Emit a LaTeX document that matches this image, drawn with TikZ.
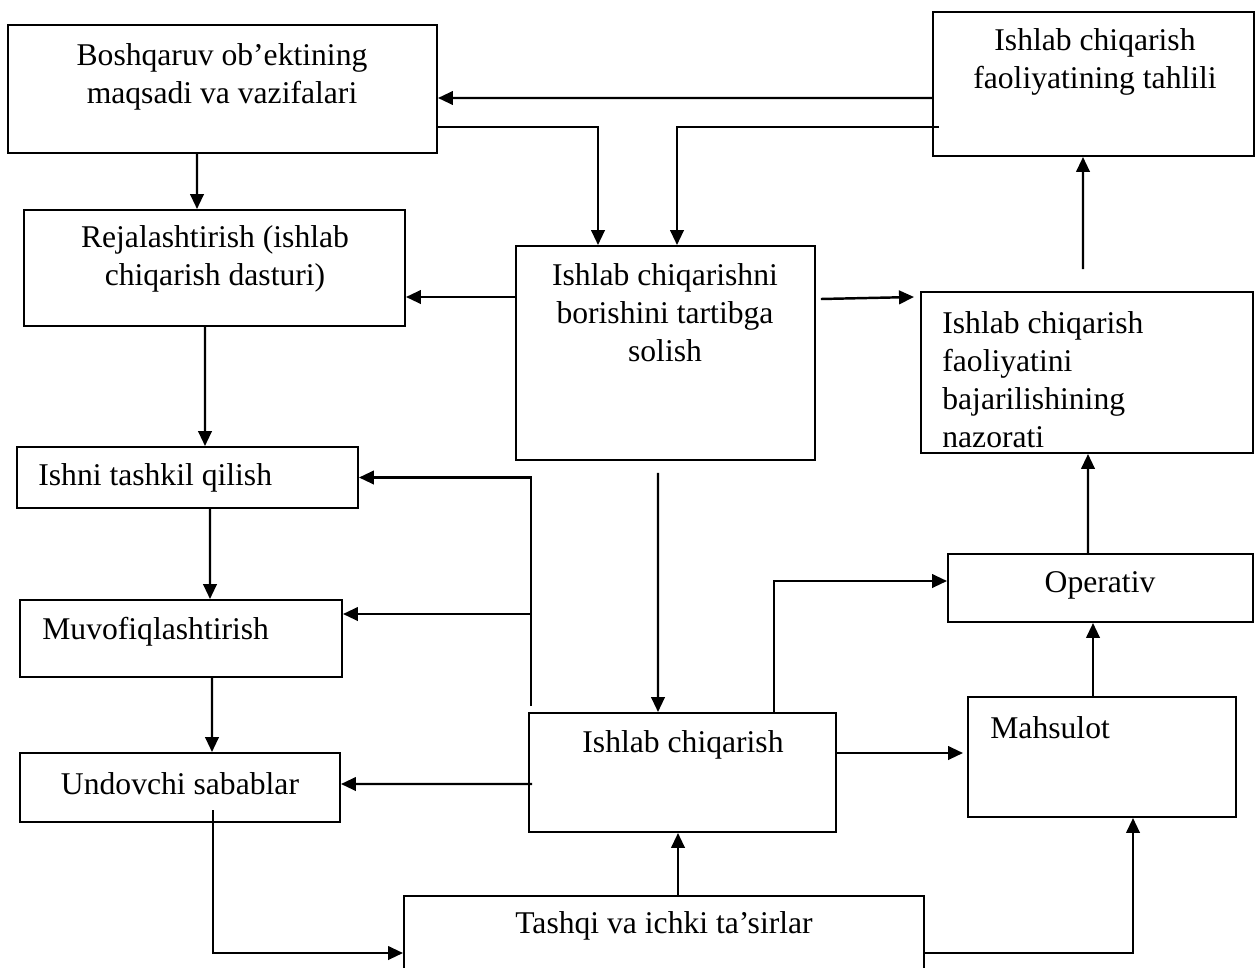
\documentclass[tikz,border=0pt]{standalone}
\usepackage{fontspec}
\setmainfont{Liberation Serif}
\usetikzlibrary{arrows.meta}

\begin{document}
\begin{tikzpicture}
		\tikzstyle{block} = [draw, rectangle, line width=1.1pt, inner sep=0pt]
		\tikzstyle{txt} = [align=center, inner sep=0pt, font=\fontsize{18pt}{21.6pt}\selectfont]
		\tikzstyle{conn} = [draw, line width=1.4pt, -{Triangle[length=0.3cm,width=0.27cm]}]
		\useasboundingbox (0,0) rectangle (25.12,-19.34);

		% boxes
		\node [block, minimum width=8.58cm, minimum height=2.56cm] (B) at (4.45,-1.78) {};
		\node [block, minimum width=6.42cm, minimum height=2.88cm] (T) at (21.87,-1.68) {};
		\node [block, minimum width=7.62cm, minimum height=2.32cm] (R) at (4.29,-5.36) {};
		\node [block, minimum width=5.98cm, minimum height=4.28cm] (O) at (13.31,-7.06) {};
		\node [block, minimum width=6.64cm, minimum height=3.22cm] (N) at (21.74,-7.45) {};
		\node [block, minimum width=6.82cm, minimum height=1.22cm] (I) at (3.75,-9.55) {};
		\node [block, minimum width=6.44cm, minimum height=1.54cm] (M) at (3.62,-12.77) {};
		\node [block, minimum width=6.10cm, minimum height=1.36cm] (Op) at (22.01,-11.76) {};
		\node [block, minimum width=6.14cm, minimum height=2.38cm] (IC) at (13.65,-15.45) {};
		\node [block, minimum width=5.36cm, minimum height=2.40cm] (Mah) at (22.04,-15.14) {};
		\node [block, minimum width=6.40cm, minimum height=1.38cm] (U) at (3.60,-15.75) {};
		\node [block, minimum width=10.40cm, minimum height=1.88cm] (TI) at (13.28,-18.86) {};

		% texts
		\node [txt] (Bt) at (4.44,-1.54) {Boshqaruv ob’ektining\\maqsadi va vazifalari};
		\node [txt] (Tt) at (21.90,-1.24) {Ishlab chiqarish\\faoliyatining tahlili};
		\node [txt] (Rt) at (4.30,-5.18) {Rejalashtirish (ishlab\\chiqarish dasturi)};
		\node [txt] (Ot) at (13.30,-6.26) {Ishlab chiqarishni\\borishini tartibga\\solish};
		\node [txt, align=left, anchor=west] (Nt) at (18.84,-7.60) {Ishlab chiqarish\\faoliyatini\\bajarilishining\\nazorati};
		\node [txt, anchor=west] (It) at (0.76,-9.56) {Ishni tashkil qilish};
		\node [txt, anchor=west] (Mt) at (0.84,-12.64) {Muvofiqlashtirish};
		\node [txt] (Opt) at (22.00,-11.70) {Operativ};
		\node [txt] (ICt) at (13.66,-14.90) {Ishlab chiqarish};
		\node [txt, anchor=west] (Maht) at (19.80,-14.56) {Mahsulot};
		\node [txt] (Ut) at (3.60,-15.68) {Undovchi sabablar};
		\node [txt] (TIt) at (13.28,-18.52) {Tashqi va ichki ta’sirlar};

		\coordinate (ICup) at ([xshift=0.06cm,yshift=0.12cm]IC.north west);
		\coordinate (Mup) at ([yshift=0.49cm]M.east);

		% top part
		\draw[conn] ([yshift=-0.28cm]T.west) -- ([yshift=-0.18cm]B.east);
		\draw[conn] ([yshift=-0.76cm]B.east) -| ([xshift=-1.35cm]O.north);
		\draw[conn] ([xshift=0.14cm,yshift=-0.86cm]T.west) -| ([xshift=0.23cm]O.north);
		\draw[conn] ([xshift=-0.51cm]B.south) -- ([xshift=-0.35cm]R.north);
		\draw[conn] ([yshift=1.12cm]O.west) -- ([yshift=-0.58cm]R.east);
		\draw[conn] ([xshift=0.1cm,yshift=1.08cm]O.east) -- ([xshift=-0.12cm,yshift=1.51cm]N.west);
		\draw[conn] ([xshift=-0.08cm,yshift=0.44cm]N.north) -- ([xshift=-0.21cm]T.south);

		% left column
		\draw[conn] ([xshift=-0.19cm]R.south) -- ([xshift=0.35cm]I.north);
		\draw[conn] ([xshift=0.45cm]I.south) -- ([xshift=0.58cm]M.north);
		\draw[conn] ([xshift=0.62cm]M.south) -- ([xshift=0.64cm]U.north);
		\draw[conn] (ICup) |- (I.east);
		\draw[conn] (Mup -| ICup) -- (Mup);
		\draw[conn] ([xshift=0.08cm,yshift=-0.23cm]IC.west) -- ([yshift=0.07cm]U.east);

		% bottom part
		\draw[conn] ([xshift=-0.15cm,yshift=-0.24cm]O.south) -- ([xshift=-0.49cm]IC.north);
		\draw[conn] ([xshift=1.83cm]IC.north) |- ([yshift=0.14cm]Op.west);
		\draw[conn] ([yshift=0.39cm]IC.east) -- ([xshift=-0.08cm,yshift=0.08cm]Mah.west);
		\draw[conn] ([xshift=-0.18cm]Mah.north) -- ([xshift=-0.15cm]Op.south);
		\draw[conn] ([xshift=-0.25cm]Op.north) -- ([xshift=0.02cm]N.south);
		\draw[conn] ([xshift=0.66cm,yshift=-0.45cm]U.center) |- ([yshift=-0.2cm]TI.west);
		\draw[conn] ([xshift=0.28cm]TI.north) -- ([xshift=-0.09cm]IC.south);
		\draw[conn] ([yshift=-0.2cm]TI.east) -| ([xshift=0.62cm]Mah.south);
	\end{tikzpicture}
\end{document}
